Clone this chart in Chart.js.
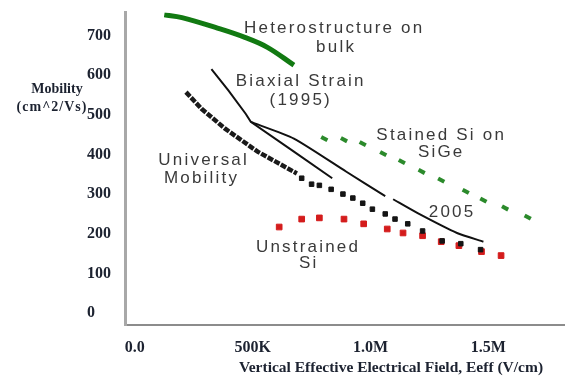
<!DOCTYPE html>
<html>
<head>
<meta charset="utf-8">
<script src="https://cdn.jsdelivr.net/npm/chart.js@4/dist/chart.umd.min.js"></script>
<style>
  html, body { margin: 0; padding: 0; background: #fff; }
  canvas { display: block; }
</style>
</head>
<body>
<canvas id="chart" width="572" height="379"></canvas>
<script>
// Valores (campo en MV/cm, movilidad en cm^2/Vs)
const heteroX = [0.125, 0.2, 0.342, 0.467, 0.5625, 0.675];
const heteroY = [752, 745, 720, 695, 670, 625];

const strain1995X = [0.325, 0.396, 0.471, 0.492, 0.675, 0.8375];
const strain1995Y = [615, 562, 502, 482, 407, 340];

// el null deja el hueco que se ve en la linea de 2005
const strain2005X = [0.492, 0.675, 0.896, 1.0625, 1.079, 1.096, 1.2, 1.367, 1.479];
const strain2005Y = [482, 440, 357, 295, null, 287, 252, 202, 180];

const universalX = [0.217, 0.283, 0.383, 0.521, 0.6875];
const universalY = [557, 515, 465, 407, 352];

const universalDotsX = [0.708, 0.75, 0.783, 0.833, 0.883, 0.925, 0.967, 1.008, 1.0625, 1.104, 1.158, 1.221, 1.304, 1.383, 1.467];
const universalDotsY = [340, 325, 322, 312, 300, 290, 277, 262, 250, 237, 225, 207, 182, 175, 160];

const unstrainedX = [0.6125, 0.708, 0.783, 0.8875, 0.971, 1.071, 1.138, 1.221, 1.3, 1.375, 1.471, 1.554];
const unstrainedY = [217, 237, 240, 237, 225, 212, 202, 195, 180, 170, 155, 145];

const sigeX = [0.804, 0.8875, 0.967, 1.054, 1.133, 1.217, 1.3, 1.404, 1.479, 1.571, 1.667];
const sigeY = [440, 437, 427, 402, 382, 357, 335, 307, 285, 265, 242];

const xTickValues = [0, 0.5, 1.0, 1.5];
const xTickLabels = ["0.0", "500K", "1.0M", "1.5M"];

const noteTexts = ["Heterostructure on", "bulk", "Biaxial Strain", "(1995)", "Stained Si on", "SiGe",
                   "Universal", "Mobility", "2005", "Unstrained", "Si"];
const noteX = [0.846, 0.854, 0.704, 0.704, 1.3, 1.3, 0.292, 0.283, 1.346, 0.735, 0.7375];
const noteY = [717, 670, 585, 537, 447, 405, 385, 340, 255, 167, 125];

// junta los arrays x / y en puntos
function toPoints(xs, ys) {
    return xs.map((x, i) => ({ x: x, y: ys[i] }));
}

// Textos sobre el grafico y titulos de ejes
const textPlugin = {
    id: "textos",
    afterDatasetsDraw(chart) {
        const { ctx, scales } = chart;
        ctx.save();
        ctx.textAlign = "center";
        ctx.textBaseline = "middle";
        ctx.font = '17px "Liberation Sans", Arial, sans-serif';
        ctx.letterSpacing = "2.2px";
        ctx.fillStyle = "#3a3a3a";
        noteTexts.forEach((t, i) => {
            ctx.fillText(t, scales.x.getPixelForValue(noteX[i]), scales.y.getPixelForValue(noteY[i]));
        });

        ctx.letterSpacing = "0px";
        ctx.fillStyle = "#1c2230";
        ctx.font = 'bold 15.5px "Liberation Serif", "Times New Roman", serif';
        ctx.fillText("Vertical Effective Electrical Field, Eeff (V/cm)", 391, 368);
        ctx.font = 'bold 14px "Liberation Serif", "Times New Roman", serif';
        ctx.fillText("Mobility", 57, 89);
        ctx.letterSpacing = "1px";
        ctx.fillText("(cm^2/Vs)", 52, 107);
        ctx.restore();
    }
};

const ctx = document.getElementById("chart").getContext("2d");
new Chart(ctx, {
    type: "scatter",
    data: {
        datasets: [
            {
                data: toPoints(heteroX, heteroY),
                showLine: true,
                borderColor: "#127a12",
                borderWidth: 5,
                tension: 0.4,
                pointRadius: 0
            },
            {
                data: toPoints(strain1995X, strain1995Y),
                showLine: true,
                borderColor: "#111",
                borderWidth: 2,
                pointRadius: 0
            },
            {
                data: toPoints(strain2005X, strain2005Y),
                showLine: true,
                borderColor: "#111",
                borderWidth: 2,
                tension: 0.2,
                pointRadius: 0
            },
            {
                data: toPoints(universalX, universalY),
                showLine: true,
                borderColor: "#1a1a1a",
                borderWidth: 4.5,
                borderDash: [6, 1.5],
                pointRadius: 0
            },
            {
                data: toPoints(universalDotsX, universalDotsY),
                pointStyle: "rect",
                pointRadius: 3.2,
                backgroundColor: "#151515",
                borderColor: "#151515"
            },
            {
                data: toPoints(unstrainedX, unstrainedY),
                pointStyle: "rect",
                pointRadius: 4,
                backgroundColor: "#d41c1c",
                borderColor: "#d41c1c"
            },
            {
                data: toPoints(sigeX, sigeY),
                pointStyle: "line",
                pointRotation: 28,
                pointRadius: 3.5,
                borderWidth: 4,
                borderColor: "#2b8a2b",
                backgroundColor: "#2b8a2b"
            }
        ]
    },
    options: {
        responsive: false,
        animation: false,
        layout: { padding: { left: 87, top: 10, right: 0, bottom: 0 } },
        plugins: {
            legend: { display: false },
            tooltip: { enabled: false }
        },
        scales: {
            x: {
                type: "linear",
                min: -0.0417,
                max: 1.821,
                afterFit: (s) => { s.height = 54; },
                afterBuildTicks: (s) => { s.ticks = xTickValues.map(v => ({ value: v })); },
                grid: { display: false, drawTicks: false },
                border: { display: true, color: "#8c8c8c", width: 2 },
                ticks: {
                    padding: 13,
                    color: "#1c2230",
                    font: { family: '"Liberation Serif", serif', size: 16, weight: "bold" },
                    callback: (v) => xTickLabels[xTickValues.indexOf(v)]
                }
            },
            y: {
                type: "linear",
                min: -30,
                max: 757.5,
                afterFit: (s) => { s.width = 38; },
                grid: { display: false, drawTicks: false },
                border: { display: true, color: "#a8a8a8", width: 3 },
                ticks: {
                    stepSize: 100,
                    includeBounds: false,
                    crossAlign: "far",
                    color: "#1c2230",
                    font: { family: '"Liberation Serif", serif', size: 16, weight: "bold" }
                }
            }
        }
    },
    plugins: [textPlugin]
});
</script>
</body>
</html>
